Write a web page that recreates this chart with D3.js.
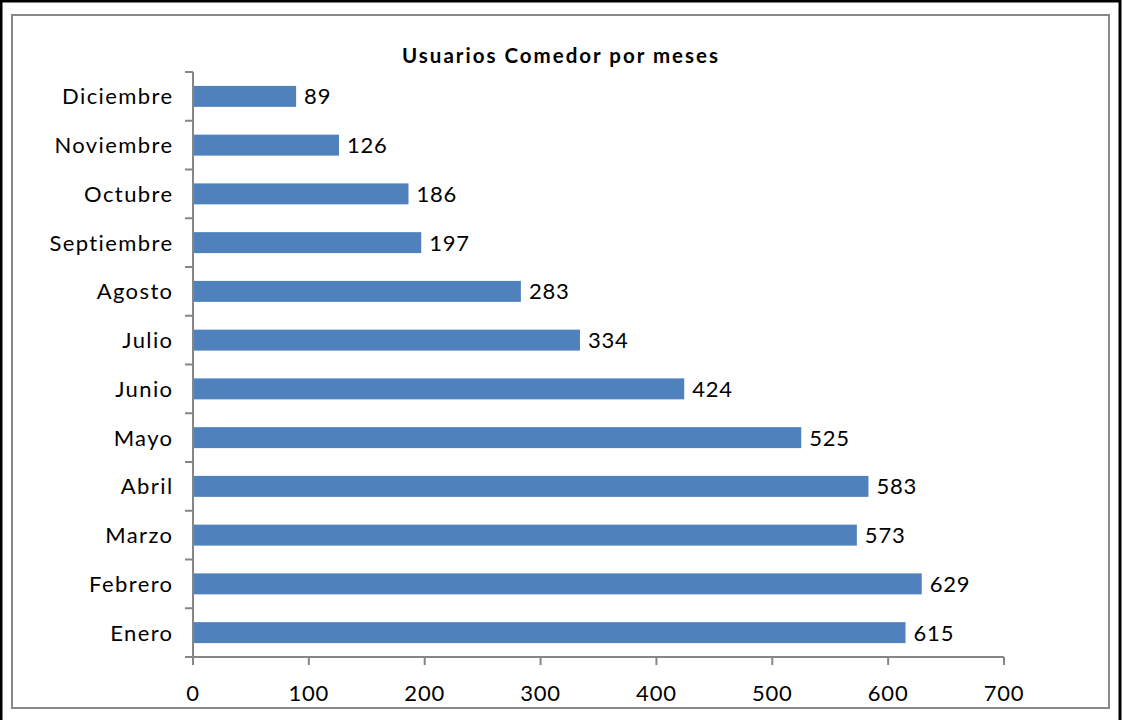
<!DOCTYPE html>
<html>
<head>
<meta charset="utf-8">
<script src="https://cdn.jsdelivr.net/npm/d3@7"></script>
<style>
  html, body { margin: 0; padding: 0; background: #fff; }
  svg { display: block; }
  text { font-family: Lato, "Open Sans", sans-serif; fill: #000; }
</style>
</head>
<body>
<svg id="chart" width="1123" height="720"></svg>
<script>
const months = ["Enero","Febrero","Marzo","Abril","Mayo","Junio","Julio","Agosto","Septiembre","Octubre","Noviembre","Diciembre"];
const users = [615, 629, 573, 583, 525, 424, 334, 283, 197, 186, 126, 89];
const xTicks = [0, 100, 200, 300, 400, 500, 600, 700];
const title = "Usuarios Comedor por meses";

const svg = d3.select("#chart");

// outer black frame
svg.append("rect").attr("x", 1).attr("y", 1).attr("width", 1119).attr("height", 730)
  .attr("fill", "none").attr("stroke", "#000").attr("stroke-width", 3);
// inner chart-area frame
svg.append("rect").attr("x", 12).attr("y", 15).attr("width", 1097).attr("height", 693)
  .attr("fill", "#fff").attr("stroke", "#888").attr("stroke-width", 2);

const pL = 193, pR = 1004, pT = 72, pB = 657;

const x = d3.scaleLinear().domain([0, 700]).range([pL, pR]);
const y = d3.scaleBand().domain(months.slice().reverse()).range([pT, pB])
  .paddingInner(0.57).paddingOuter(0.285);
const yb = d3.scaleBand().domain(months.slice().reverse()).range([pT, pB]);

svg.append("text").attr("x", 561).attr("y", 63).attr("text-anchor", "middle")
  .attr("font-weight", "bold").attr("font-size", 20.5).attr("letter-spacing", 2)
  .text(title);

const data = months.map((m, i) => ({ m, v: users[i] }));

svg.selectAll("rect.bar").data(data).enter().append("rect").attr("class", "bar")
  .attr("x", x(0)).attr("y", d => y(d.m))
  .attr("width", d => x(d.v) - x(0)).attr("height", y.bandwidth())
  .attr("fill", "#4F81BD");

svg.selectAll("text.val").data(data).enter().append("text").attr("class", "val")
  .attr("x", d => x(d.v) + 8).attr("y", d => y(d.m) + y.bandwidth() / 2 + 8)
  .attr("font-size", 22).attr("letter-spacing", 0.8).text(d => d.v);

// y axis
const axisColor = "#868686";
svg.append("line").attr("x1", pL).attr("x2", pL).attr("y1", pT).attr("y2", pB)
  .attr("stroke", axisColor).attr("stroke-width", 2);
const bounds = months.slice().reverse().map(m => yb(m)).concat([pB]);
svg.selectAll("line.ytick").data(bounds).enter().append("line").attr("class", "ytick")
  .attr("x1", pL - 8).attr("x2", pL).attr("y1", d => d).attr("y2", d => d)
  .attr("stroke", axisColor).attr("stroke-width", 2);
svg.selectAll("text.ylab").data(months).enter().append("text").attr("class", "ylab")
  .attr("x", 173.5).attr("y", m => yb(m) + yb.bandwidth() / 2 + 8)
  .attr("text-anchor", "end").attr("font-size", 22).attr("letter-spacing", 1.4)
  .text(m => m);

// x axis
svg.append("line").attr("x1", pL - 8).attr("x2", pR).attr("y1", pB).attr("y2", pB)
  .attr("stroke", axisColor).attr("stroke-width", 2);
svg.selectAll("line.xtick").data(xTicks).enter().append("line").attr("class", "xtick")
  .attr("x1", d => x(d)).attr("x2", d => x(d)).attr("y1", pB).attr("y2", pB + 8)
  .attr("stroke", axisColor).attr("stroke-width", 2);
svg.selectAll("text.xlab").data(xTicks).enter().append("text").attr("class", "xlab")
  .attr("x", d => x(d)).attr("y", 701).attr("text-anchor", "middle")
  .attr("font-size", 22).attr("letter-spacing", 0.8).text(d => d);
</script>
</body>
</html>
